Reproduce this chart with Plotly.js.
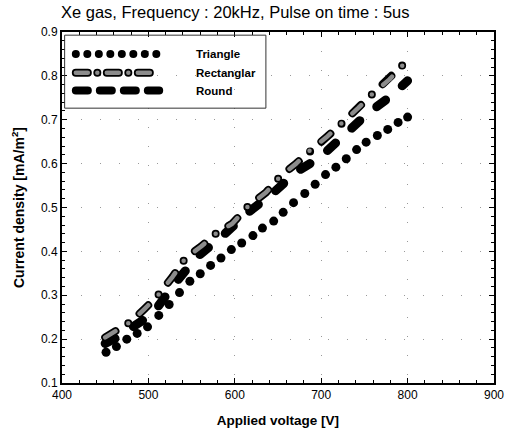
<!DOCTYPE html>
<html>
<head>
<meta charset="utf-8">
<script src="https://cdn.plot.ly/plotly-3.0.1.min.js"></script>
<style>
html, body { margin: 0; padding: 0; background: #fff; }
#chart { width: 516px; height: 444px; }
.scatterlayer path.js-line, .shapelayer path { stroke-linecap: round; stroke-linejoin: round; }
</style>
</head>
<body>
<div id="chart"></div>
<script>
// ---- data ----
var titleText = "Xe gas, Frequency : 20kHz, Pulse on time : 5us";
var xTitle = "Applied voltage [V]";
var yTitle = "Current density [mA/m<sup>2</sup>]";
var seriesNames = ["Triangle", "Rectanglar", "Round"];

var triV = [451, 463, 475, 487, 499, 512, 524, 536, 548, 560, 572, 584, 596, 608, 621, 632, 645, 656, 668, 681, 693, 705, 717, 729, 741, 752, 765, 777, 789, 800];
var triJ = [0.170, 0.183, 0.200, 0.213, 0.228, 0.254, 0.279, 0.306, 0.332, 0.349, 0.368, 0.385, 0.404, 0.419, 0.436, 0.453, 0.469, 0.489, 0.511, 0.532, 0.553, 0.575, 0.592, 0.611, 0.632, 0.649, 0.664, 0.678, 0.694, 0.706];

var rectV = [450, 467, 480, 495, 509, 528, 543, 561, 579, 597, 615, 636, 653, 671, 688, 706, 724, 743, 760, 779, 797];
var rectJ = [0.204, 0.223, 0.240, 0.268, 0.295, 0.342, 0.385, 0.411, 0.442, 0.463, 0.502, 0.534, 0.572, 0.600, 0.632, 0.660, 0.692, 0.727, 0.760, 0.792, 0.830];

var roundV = [450, 465, 482, 505, 530, 555, 585, 615, 646, 671, 698, 726, 753, 782, 800];
var roundJ = [0.190, 0.205, 0.228, 0.258, 0.325, 0.385, 0.434, 0.488, 0.536, 0.581, 0.613, 0.662, 0.713, 0.756, 0.789];

var xTicks = [400, 500, 600, 700, 800, 900];
var yTicks = [0.1, 0.2, 0.3, 0.4, 0.5, 0.6, 0.7, 0.8, 0.9];

// ---- styles ----
var FONT = "Liberation Sans, Arial, sans-serif";
var rectDash = "12px,15px,0px,15px";
var roundDash = "11px,22px";
var rectFill = "#8c8c8c";

var traces = [
  { x: roundV, y: roundJ, mode: "lines", name: seriesNames[2], showlegend: false,
    line: { color: "#000", width: 9, dash: roundDash } },
  { x: rectV, y: rectJ, mode: "lines", name: seriesNames[1], showlegend: false,
    line: { color: "#000", width: 8, dash: rectDash } },
  { x: rectV, y: rectJ, mode: "lines", name: seriesNames[1], showlegend: false,
    line: { color: rectFill, width: 4.5, dash: rectDash } },
  { x: triV, y: triJ, mode: "markers", name: seriesNames[0], showlegend: false,
    marker: { color: "#000", size: 9 } }
];

// legend drawn with shapes + annotations (layout positions only)
var lgX0 = 0.032, lgX1 = 0.225, lgRows = [0.937, 0.884, 0.833], lgTextX = 0.306;
var shapes = [
  { type: "rect", xref: "paper", yref: "paper", x0: 0.007, x1: 0.472, y0: 0.783, y1: 0.991,
    line: { color: "#333", width: 1 }, fillcolor: "rgba(0,0,0,0)" },
  { type: "line", xref: "paper", yref: "paper", x0: lgX0, x1: lgX1, y0: lgRows[0], y1: lgRows[0],
    line: { color: "#000", width: 8, dash: "0px,11.5px" } },
  { type: "line", xref: "paper", yref: "paper", x0: lgX0, x1: lgX1, y0: lgRows[1], y1: lgRows[1],
    line: { color: "#000", width: 8, dash: "12px,9.5px,0px,9.5px" } },
  { type: "line", xref: "paper", yref: "paper", x0: lgX0, x1: lgX1, y0: lgRows[1], y1: lgRows[1],
    line: { color: rectFill, width: 4.5, dash: "12px,9.5px,0px,9.5px" } },
  { type: "line", xref: "paper", yref: "paper", x0: lgX0, x1: lgX1, y0: lgRows[2], y1: lgRows[2],
    line: { color: "#000", width: 8, dash: "12px,12px" } }
];
var annotations = seriesNames.map(function (n, i) {
  return { text: "<b>" + n + "</b>", xref: "paper", yref: "paper", x: lgTextX, y: lgRows[i],
    xanchor: "left", yanchor: "middle", showarrow: false,
    font: { family: FONT, size: 11.5, color: "#000" } };
});
annotations.push({ text: titleText, xref: "paper", yref: "paper", x: -0.007, y: 1.057,
  xanchor: "left", yanchor: "middle", showarrow: false,
  font: { family: FONT, size: 16.5, color: "#000" } });

var axisCommon = {
  showline: true, linecolor: "#000", linewidth: 2, mirror: "ticks",
  ticks: "inside", ticklen: 5, tickwidth: 1, tickcolor: "#000",
  showgrid: true, gridcolor: "#999", gridwidth: 1, griddash: "1px,18px",
  zeroline: false, tickfont: { family: FONT, size: 12, color: "#000" }
};

var layout = {
  width: 516, height: 444,
  margin: { l: 62, r: 22, t: 32, b: 61 },
  paper_bgcolor: "#fff", plot_bgcolor: "#fff",
  showlegend: false,
  xaxis: Object.assign({}, axisCommon, {
    range: [400, 900], tickvals: xTicks, ticktext: xTicks.map(String),
    minor: { dtick: 20, ticks: "inside", ticklen: 3, tickcolor: "#000", showgrid: false },
    title: { text: "<b>" + xTitle + "</b>", standoff: 14, font: { family: FONT, size: 13.5, color: "#000" } }
  }),
  yaxis: Object.assign({}, axisCommon, {
    range: [0.1, 0.9], tickvals: yTicks, ticktext: yTicks.map(function (v) { return v.toFixed(1); }),
    minor: { dtick: 0.02, ticks: "inside", ticklen: 3, tickcolor: "#000", showgrid: false },
    title: { text: "<b>" + yTitle + "</b>", standoff: 13, font: { family: FONT, size: 14, color: "#000" } }
  }),
  shapes: shapes,
  annotations: annotations
};

Plotly.newPlot("chart", traces, layout, { staticPlot: true, displayModeBar: false });
</script>
</body>
</html>
